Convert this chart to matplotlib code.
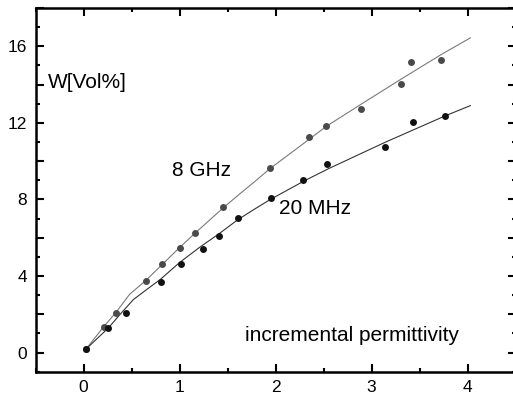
import matplotlib
matplotlib.use("Agg")
import matplotlib.pyplot as plt
from matplotlib.ticker import MultipleLocator, FuncFormatter

plt.rcParams['font.family'] = ['Liberation Sans', 'DejaVu Sans']

# measured points
ghz8_x = [0.03, 0.21, 0.34, 0.65, 0.82, 1.00, 1.16, 1.45, 1.94, 2.35, 2.53, 2.89, 3.31, 3.41, 3.72]
ghz8_y = [0.19, 1.33, 2.08, 3.75, 4.61, 5.48, 6.23, 7.58, 9.62, 11.24, 11.82, 12.70, 14.03, 15.17, 15.29]
mhz20_x = [0.03, 0.26, 0.44, 0.81, 1.02, 1.24, 1.41, 1.61, 1.95, 2.29, 2.54, 3.14, 3.43, 3.77]
mhz20_y = [0.19, 1.29, 2.08, 3.66, 4.61, 5.43, 6.09, 7.05, 8.05, 9.00, 9.83, 10.75, 12.06, 12.37]

# fitted curves
fit8_x = [0.03, 0.21, 0.34, 0.48, 0.65, 0.82, 1.00, 1.16, 1.46, 1.63, 1.80, 1.94, 2.34, 2.53, 2.90, 3.31, 3.72, 4.03]
fit8_y = [0.20, 1.35, 2.11, 3.04, 3.77, 4.60, 5.48, 6.23, 7.58, 8.30, 9.00, 9.60, 11.10, 11.82, 13.00, 14.29, 15.55, 16.44]
fit20_x = [0.03, 0.26, 0.38, 0.52, 0.66, 0.80, 1.00, 1.21, 1.41, 1.61, 1.80, 1.94, 2.30, 2.55, 3.14, 3.77, 4.03]
fit20_y = [0.20, 1.29, 1.99, 2.77, 3.30, 3.82, 4.70, 5.50, 6.20, 6.95, 7.55, 7.98, 8.97, 9.60, 10.98, 12.37, 12.90]

fig = plt.figure(figsize=(5.13, 4.03), dpi=100)
ax = fig.add_axes([35.5/513, 31.3/403, (515.5-35.5)/513, (395-31.3)/403])

ax.plot(fit8_x, fit8_y, color='#7a7a7a', lw=0.8, zorder=2)
ax.plot(fit20_x, fit20_y, color='#333333', lw=0.8, zorder=2)
ax.plot(ghz8_x, ghz8_y, 'o', color='#4a4a4a', ms=5, mec='none', zorder=3)
ax.plot(mhz20_x, mhz20_y, 'o', color='#111111', ms=5, mec='none', zorder=3)

ax.set_xlim(-0.5, 4.5)
ax.set_ylim(-1, 18)

ax.xaxis.set_major_locator(MultipleLocator(1))
ax.xaxis.set_minor_locator(MultipleLocator(0.5))
ax.yaxis.set_major_locator(MultipleLocator(2))
ax.yaxis.set_minor_locator(MultipleLocator(1))
ax.xaxis.set_major_formatter(FuncFormatter(lambda v, p: f"{v:.0f}"))
ax.yaxis.set_major_formatter(FuncFormatter(lambda v, p: f"{v:.0f}" if round(v) % 4 == 0 else ""))

ax.tick_params(which='both', direction='in', top=True, right=True, width=1.5, colors='black')
ax.tick_params(which='major', length=6)
ax.tick_params(which='minor', length=3)
ax.tick_params(axis='both', labelsize=12.5, pad=6)
for s in ax.spines.values():
    s.set_linewidth(1.8)

ax.text(-0.37, 14.1, 'W[Vol%]', fontsize=15, va='center', ha='left')
ax.text(0.92, 9.5, '8 GHz', fontsize=15, va='center', ha='left')
ax.text(2.04, 7.5, '20 MHz', fontsize=15, va='center', ha='left')
ax.text(1.68, 0.9, 'incremental permittivity', fontsize=15, va='center', ha='left')

fig.savefig('out.png', dpi=100)
